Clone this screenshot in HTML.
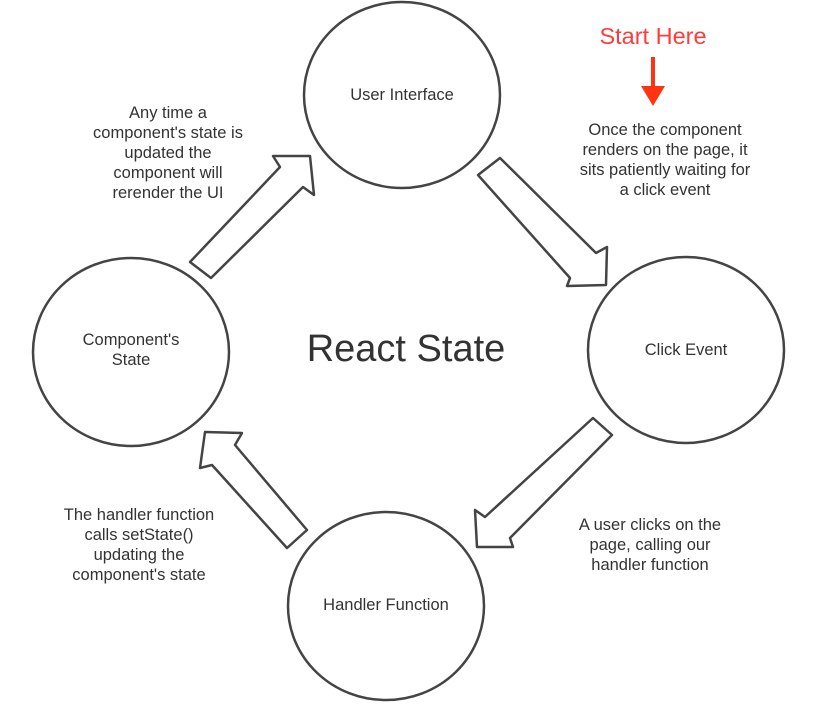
<!DOCTYPE html>
<html><head><style>
body{margin:0;background:#fff;}
svg{display:block;}
text{font-family:"Liberation Sans",sans-serif;fill:#333;}
</style></head><body>
<svg width="814" height="720" viewBox="0 0 814 720">
<g fill="none" stroke="#444" stroke-width="2.5" stroke-linejoin="round">
<ellipse cx="402" cy="95" rx="98" ry="93"/>
<ellipse cx="686" cy="350" rx="98" ry="93"/>
<ellipse cx="131" cy="352" rx="98" ry="94"/>
<ellipse cx="386" cy="606" rx="98" ry="94"/>
<polygon points="190,262 280,167 273,156 310,156 314,195 303,187 211,278"/>
<polygon points="500,158 596,253 607,247 606,285 567,286 570,278 478,175"/>
<polygon points="593,418 485,517 475,510 477,547 513,547 510,538 612,435"/>
<polygon points="205,432 242,433 235,445 307,530 287,548 212,465 200,468"/>
</g>
<text x="402" y="100" font-size="16.5" text-anchor="middle">User Interface</text>
<text x="686" y="355" font-size="16.5" text-anchor="middle">Click Event</text>
<text x="131" y="345" font-size="16.5" text-anchor="middle">Component's</text>
<text x="131" y="365" font-size="16.5" text-anchor="middle">State</text>
<text x="386" y="610" font-size="16.5" text-anchor="middle">Handler Function</text>
<text x="406" y="361" font-size="38" text-anchor="middle">React State</text>
<text x="653" y="44" font-size="23.5" text-anchor="middle" style="fill:#ff3b3b">Start Here</text>
<line x1="653" y1="57" x2="653" y2="88" stroke="#f31" stroke-width="4"/>
<polygon points="641,86 665,86 653,106" fill="#f31"/>
<g font-size="16.5" text-anchor="middle">
<text x="168" y="118">Any time a</text>
<text x="168" y="138">component's state is</text>
<text x="168" y="158">updated the</text>
<text x="168" y="178">component will</text>
<text x="168" y="198">rerender the UI</text>
<text x="665" y="135">Once the component</text>
<text x="665" y="155">renders on the page, it</text>
<text x="665" y="175">sits patiently waiting for</text>
<text x="665" y="195">a click event</text>
<text x="650" y="530">A user clicks on the</text>
<text x="650" y="550">page, calling our</text>
<text x="650" y="570">handler function</text>
<text x="139" y="520">The handler function</text>
<text x="139" y="540">calls setState()</text>
<text x="139" y="560">updating the</text>
<text x="139" y="580">component's state</text>
</g>
</svg>
</body></html>
